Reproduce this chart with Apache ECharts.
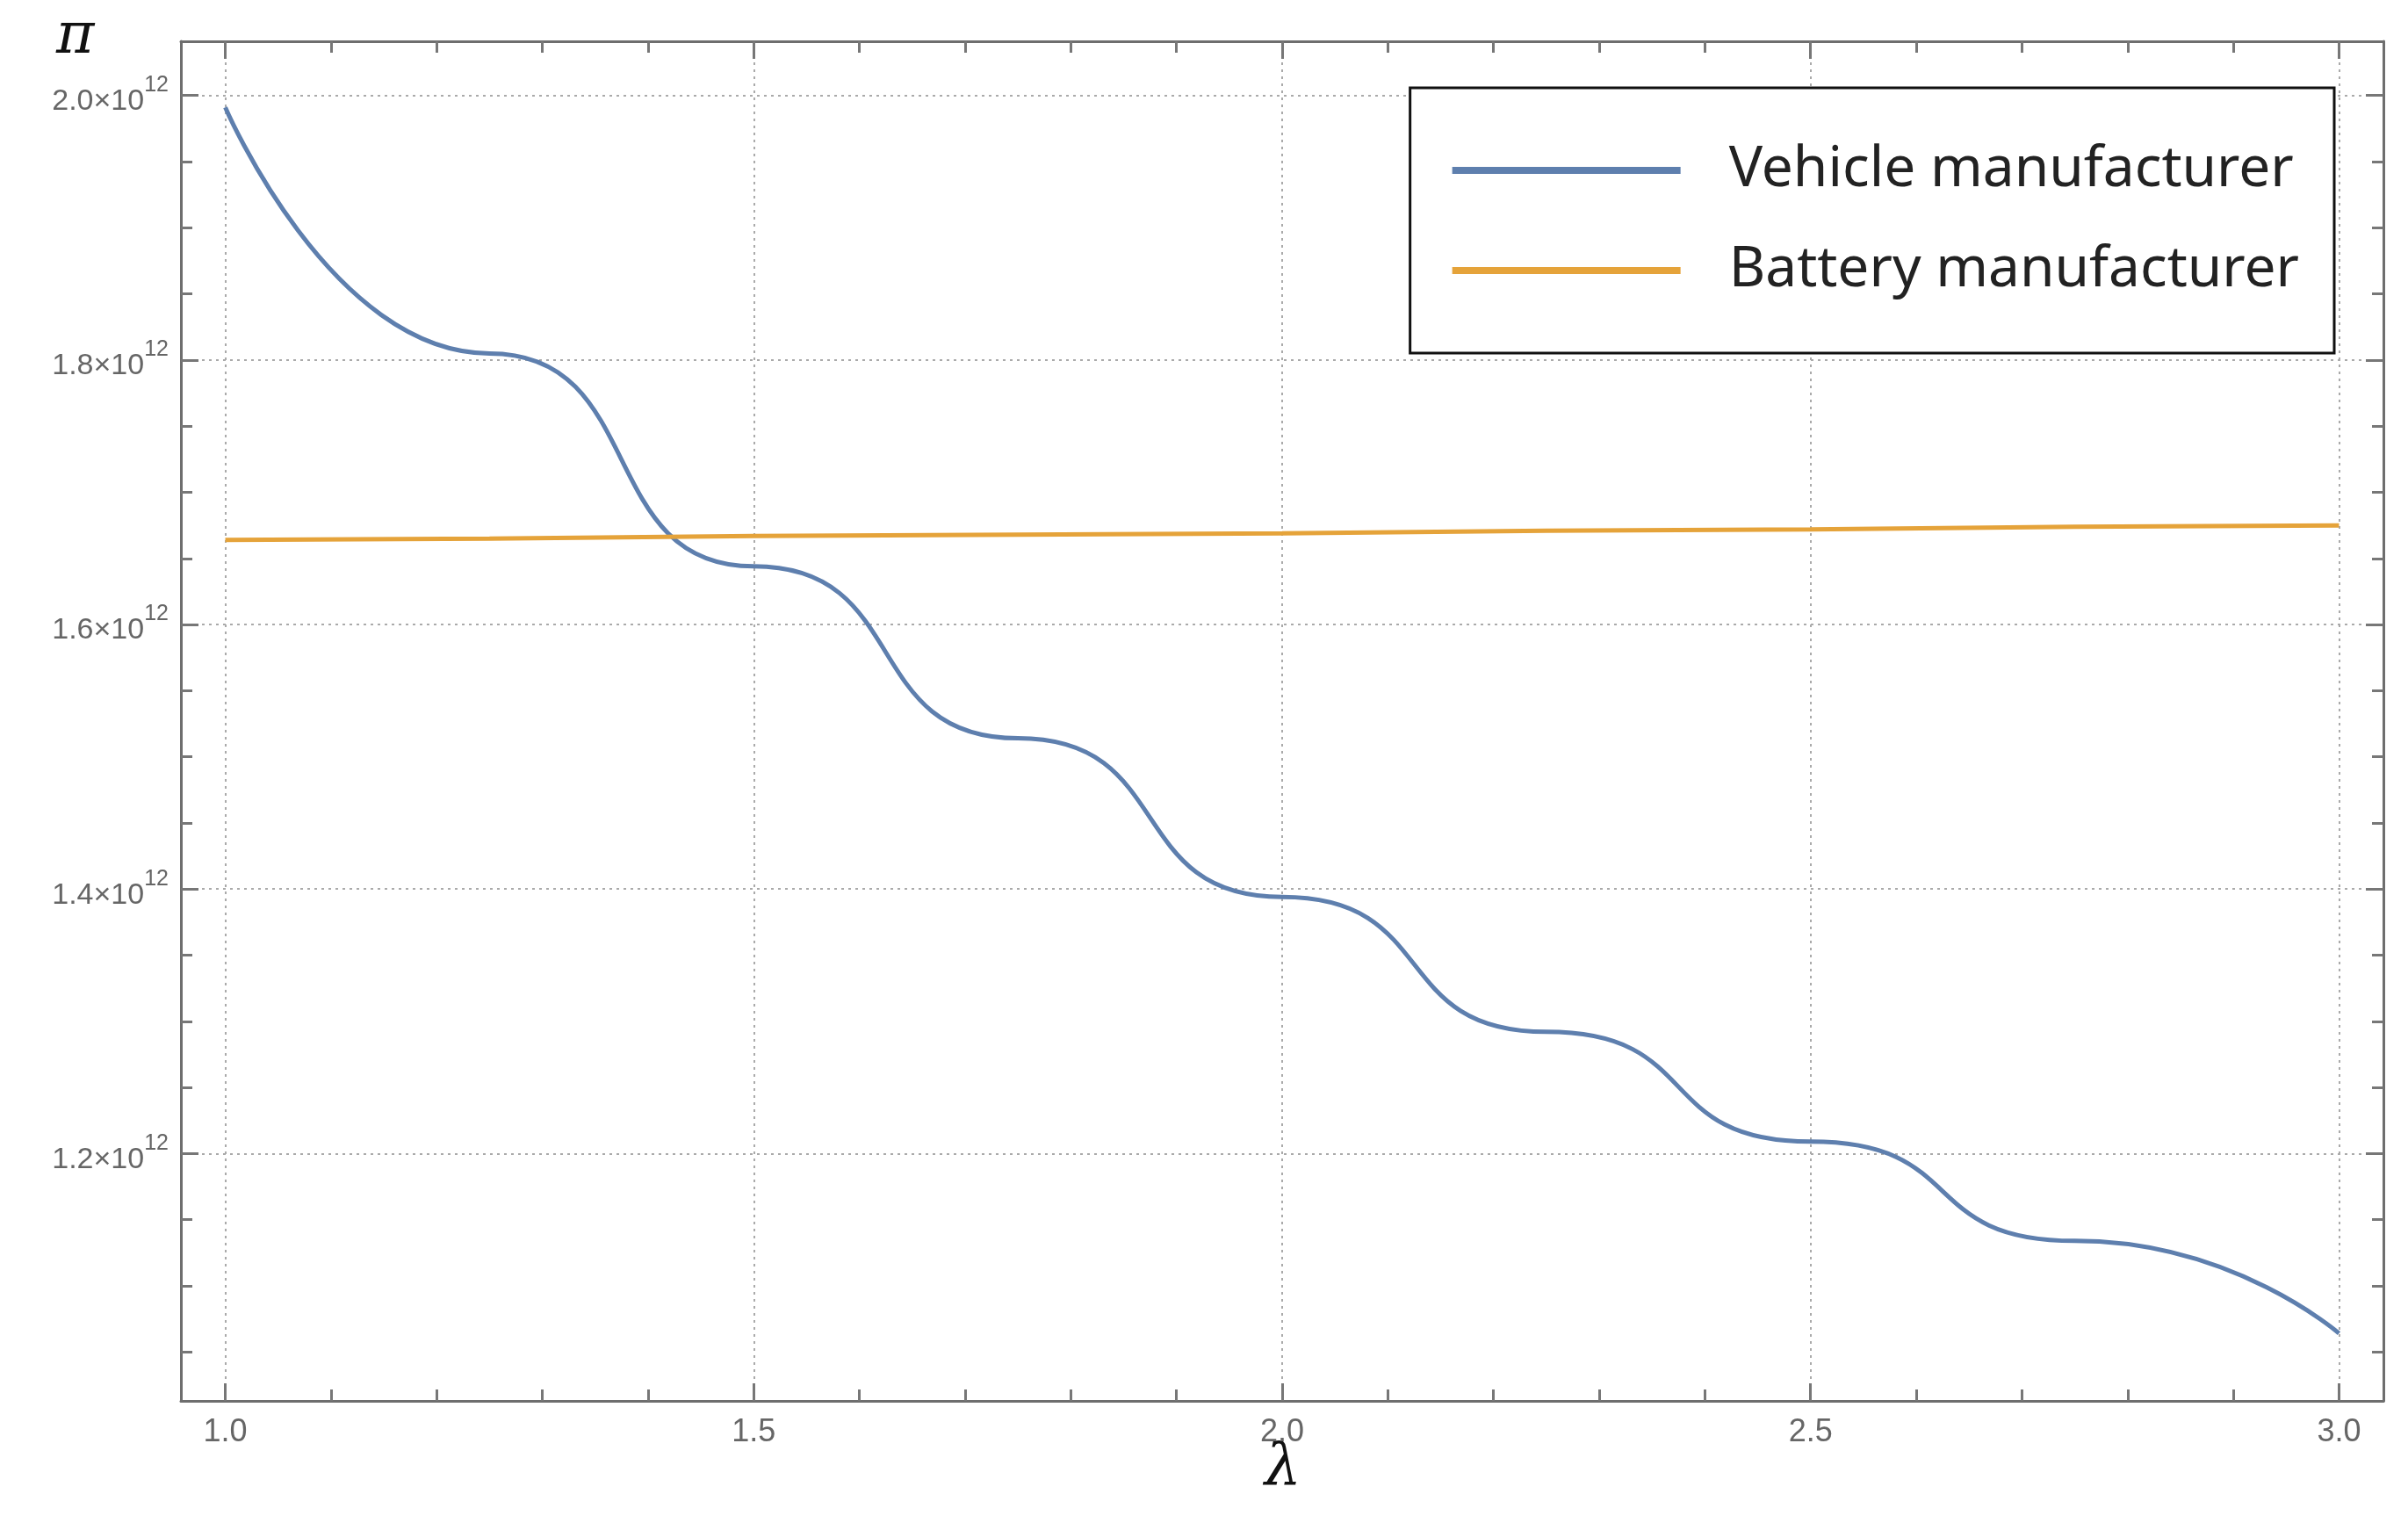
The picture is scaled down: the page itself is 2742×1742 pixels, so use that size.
<!DOCTYPE html>
<html>
<head>
<meta charset="utf-8">
<script src="https://cdn.jsdelivr.net/npm/echarts@6/dist/echarts.min.js"></script>
<style>html,body{margin:0;background:#fff}#c{width:2742px;height:1742px}</style>
</head>
<body>
<div id="c"></div>
<script>
// values in units of 10^12
var lambda = [1.0, 1.25, 1.5, 1.75, 2.0, 2.25, 2.5, 2.75, 3.0];
var vehicle = [1.991, 1.805, 1.644, 1.514, 1.394, 1.292, 1.209, 1.134, 1.064];
var battery = [1.664, 1.665, 1.667, 1.668, 1.669, 1.671, 1.672, 1.674, 1.675];
var xMajor = [1.0, 1.5, 2.0, 2.5, 3.0];
var xMinor = [1.1, 1.2, 1.3, 1.4, 1.6, 1.7, 1.8, 1.9, 2.1, 2.2, 2.3, 2.4, 2.6, 2.7, 2.8, 2.9];
var yMajor = [1.2, 1.4, 1.6, 1.8, 2.0];
var yMinor = [1.05, 1.1, 1.15, 1.25, 1.3, 1.35, 1.45, 1.5, 1.55, 1.65, 1.7, 1.75, 1.85, 1.9, 1.95];

var chart = echarts.init(document.getElementById('c'));
var X0 = 0.958, X1 = 3.042, Y0 = 1.013, Y1 = 2.041;
var frameLine = {color: '#6e6e6e', width: 3};
var grey = '#777';

function xAx(pos, ticks, len, labels, line) {
    return {
        type: 'value', position: pos, min: X0, max: X1,
        axisLine: line ? {show: true, onZero: false, lineStyle: frameLine} : {show: false},
        axisTick: {show: true, inside: true, length: len, customValues: ticks, lineStyle: {color: grey, width: 3}},
        axisLabel: labels ? {show: true, customValues: ticks, color: '#666', fontSize: 36, margin: 18, fontFamily: 'Liberation Sans',
            formatter: function (v) { return v.toFixed(1); }} : {show: false},
        splitLine: labels ? {show: true, lineStyle: {type: [3, 5], color: '#aaa', width: 2}} : {show: false}
    };
}
function yAx(pos, ticks, len, labels, line) {
    return {
        type: 'value', position: pos, min: Y0, max: Y1,
        axisLine: line ? {show: true, onZero: false, lineStyle: frameLine} : {show: false},
        axisTick: {show: true, inside: true, length: len, customValues: ticks, lineStyle: {color: grey, width: 3}},
        axisLabel: labels ? {show: true, customValues: ticks, margin: 14,
            formatter: function (v) { return '{a|' + v.toFixed(1) + '×10}{b|12}'; },
            rich: {a: {fontSize: 34, color: '#666', fontFamily: 'Liberation Sans', padding: [14, 0, 0, 0]},
                   b: {fontSize: 25, color: '#666', fontFamily: 'Liberation Sans', verticalAlign: 'top', padding: [0, 0, 16, 0]}}} : {show: false},
        splitLine: labels ? {show: true, lineStyle: {type: [3, 5], color: '#aaa', width: 2}} : {show: false}
    };
}

chart.setOption({
    backgroundColor: '#fff',
    animation: false,
    grid: {left: 206, right: 28, top: 47, bottom: 147},
    legend: {
        right: 84, top: 100, orient: 'vertical',
        padding: [62, 40, 62, 48], itemGap: 50, itemWidth: 260, itemHeight: 8,
        borderColor: '#111', borderWidth: 3, backgroundColor: '#fff',
        icon: 'rect',
        textStyle: {fontSize: 64, color: '#222', fontFamily: 'Noto Sans', padding: [0, 0, 0, 50]},
        data: ['Vehicle manufacturer', 'Battery manufacturer']
    },
    xAxis: [
        xAx('bottom', xMajor, 20, true, true),
        xAx('bottom', xMinor, 13, false, false),
        xAx('top', xMajor, 20, false, true),
        xAx('top', xMinor, 13, false, false)
    ],
    yAxis: [
        yAx('left', yMajor, 20, true, true),
        yAx('left', yMinor, 13, false, false),
        yAx('right', yMajor, 20, false, true),
        yAx('right', yMinor, 13, false, false)
    ],
    graphic: [
        {type: 'text', left: 64, top: 10, style: {text: 'π', fontSize: 66, fontStyle: 'italic', fontFamily: 'DejaVu Serif', fill: '#111'}},
        {type: 'text', left: 1440, top: 1640, style: {text: 'λ', fontSize: 66, fontStyle: 'italic', fontFamily: 'DejaVu Serif', fill: '#111'}}
    ],
    series: [
        {name: 'Vehicle manufacturer', type: 'line', smooth: 0.6, smoothMonotone: 'x', showSymbol: false,
         lineStyle: {color: '#5e7fae', width: 5}, itemStyle: {color: '#5e7fae'},
         data: lambda.map(function (x, i) { return [x, vehicle[i]]; })},
        {name: 'Battery manufacturer', type: 'line', showSymbol: false,
         lineStyle: {color: '#e5a33a', width: 5}, itemStyle: {color: '#e5a33a'},
         data: lambda.map(function (x, i) { return [x, battery[i]]; })}
    ]
});
</script>
</body>
</html>
